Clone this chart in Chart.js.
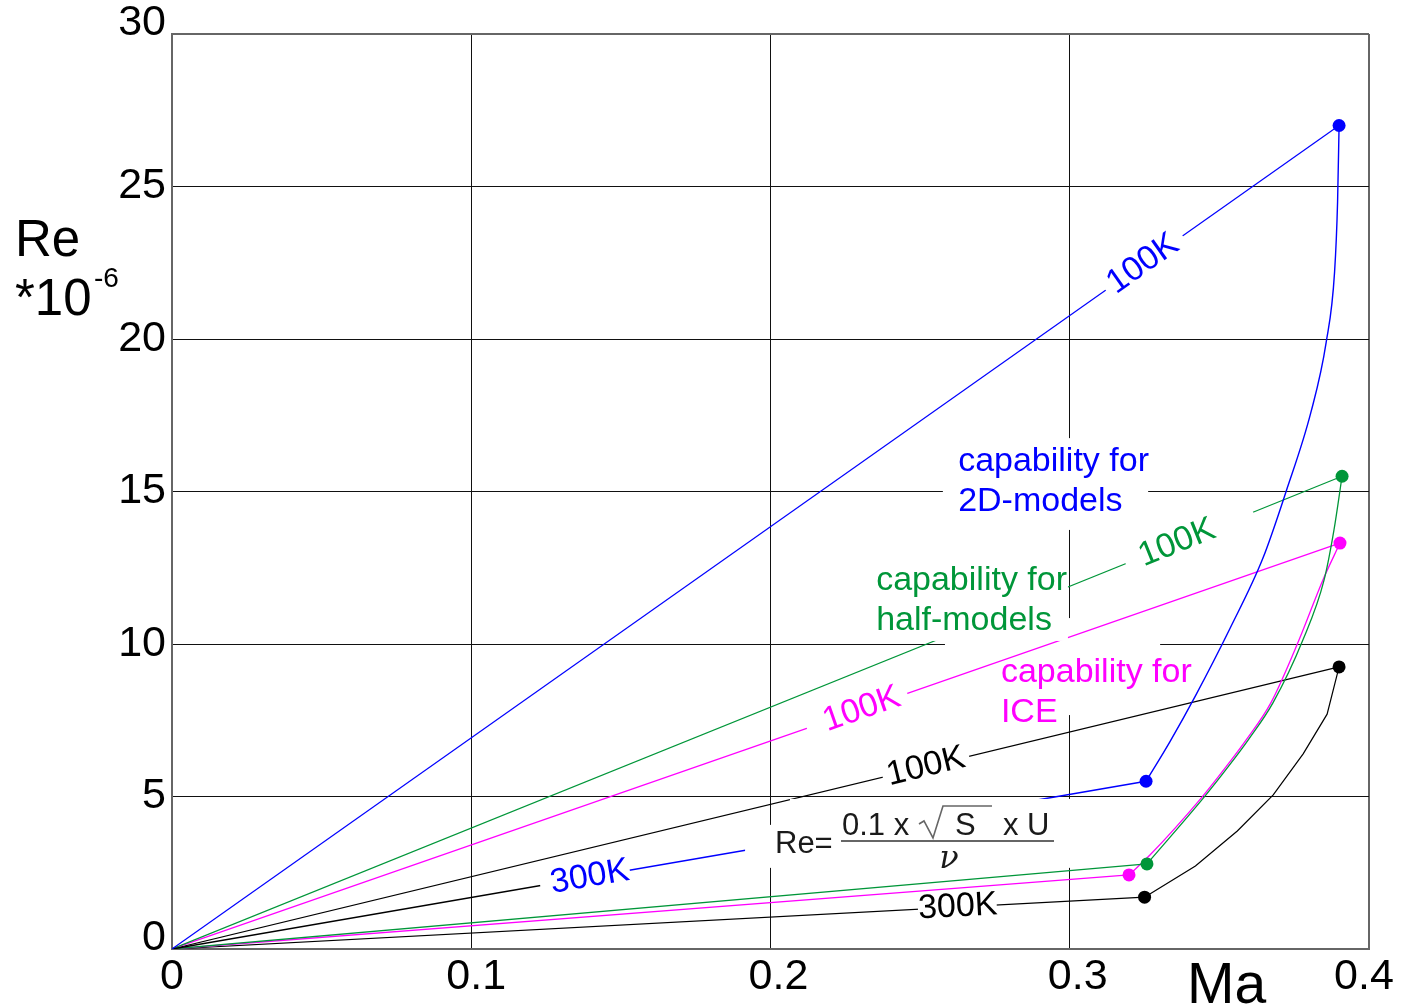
<!DOCTYPE html>
<html>
<head>
<meta charset="utf-8">
<title>Re vs Ma capability</title>
<script src="https://cdn.jsdelivr.net/npm/chart.js@4.4.0/dist/chart.umd.min.js"></script>
<style>
  html, body { margin: 0; padding: 0; background: #ffffff; }
  #wrap { width: 1406px; height: 1006px; position: relative; }
</style>
</head>
<body>
<div id="wrap"><canvas id="chart" width="1406" height="1006"></canvas></div>
<script>
// ---- axis ticks ----
const xTicks = [0, 0.1, 0.2, 0.3, 0.4];
const xTickLabels = ['0', '0.1', '0.2', '0.3', '0.4'];
const yTicks = [0, 5, 10, 15, 20, 25, 30];
const yTickLabels = ['0', '5', '10', '15', '20', '25', '30'];

// ---- series: [Ma, Re*10^-6] ----
const blue100K = [[0, 0], [0.390, 27.0]];
const blueEnvelope = [[0.3900, 27.0], [0.3895, 24.5], [0.3885, 22.2], [0.3857, 19.9], [0.3806, 17.6],
  [0.3723, 15.0], [0.3645, 12.8], [0.3535, 10.5], [0.3420, 8.3], [0.3335, 6.8], [0.3255, 5.5]];
const blue300K = [[0, 0], [0.3255, 5.5]];

const green100K = [[0, 0], [0.391, 15.5]];
const greenEnvelope = [[0.3910, 15.5], [0.3883, 13.74], [0.3850, 12.1], [0.3779, 10.13], [0.3679, 8.07],
  [0.3596, 6.85], [0.3529, 5.97], [0.3449, 4.98], [0.3258, 2.79]];
const green300K = [[0, 0], [0.3258, 2.79]];

const magenta100K = [[0, 0], [0.390, 13.3]];
const magentaEnvelope = [[0.3903, 13.31], [0.3846, 12.1], [0.3766, 10.13], [0.3672, 8.07], [0.3589, 6.85],
  [0.3522, 5.97], [0.3442, 4.98], [0.3268, 3.08], [0.3198, 2.43]];
const magenta300K = [[0, 0], [0.3198, 2.43]];

const black100K = [[0, 0], [0.390, 9.25]];
const blackEnvelope = [[0.390, 9.25], [0.386, 7.7], [0.378, 6.4], [0.368, 5.05], [0.356, 3.87],
  [0.342, 2.72], [0.325, 1.7]];
const black300K = [[0, 0], [0.325, 1.7]];

// ---- styling ----
const FONT = "'Liberation Sans', Arial, Helvetica, sans-serif";
const BLUE = '#0000ff', GREEN = '#009639', MAGENTA = '#ff00ff', BLACK = '#000000';
const FRAME = '#666666';
const xLabelNudge = [0, 5, 8, 8, -5];          // px, horizontal
const yLabelNudge = [-11, 0, 0, 0, 0, 0, -11]; // px, vertical

// temperature tags along the straight lines (position as a fraction of the line)
const lineTags = [
  { text: '100K', color: BLUE,    series: blue100K,    at: 0.832, gap: [0.800, 0.866], h: 34 },
  { text: '100K', color: GREEN,   series: green100K,   at: 0.859, gap: [0.815, 0.924], h: 32 },
  { text: '100K', color: MAGENTA, series: magenta100K, at: 0.591, gap: [0.544, 0.630], h: 32 },
  { text: '100K', color: BLACK,   series: black100K,   at: 0.646, gap: [0.609, 0.683], h: 32 },
  { text: '300K', color: BLUE,    series: blue300K,    at: 0.429, gap: [0.378, 0.470], h: 30 },
  { text: '300K', color: BLACK,   series: black300K,   at: 0.808, gap: [0.767, 0.848], h: 24 }
];

// multi-line notes, anchored at the left end of the first line
const notes = [
  { lines: ['capability for', '2D-models'],   color: BLUE,    at: [0.2627, 15.97] },
  { lines: ['capability for', 'half-models'], color: GREEN,   at: [0.2353, 12.07] },
  { lines: ['capability for', 'ICE'],         color: MAGENTA, at: [0.2770, 9.05] }
];

// white panels: under the curves (grid only) and over the curves
const panelsUnder = [
  { x: [0.2576, 0.3262], y: [13.74, 16.75] },
  { x: [0.2583, 0.3302], y: [7.67, 10.85] }
];
const panelsOver = [
  { x: [0.2339, 0.2994], y: [10.10, 12.75] },
  { x: [0.2065, 0.3018], y: [2.66, 4.92] },
  { x: [0.1915, 0.2065], y: [2.66, 4.07] }
];
const formulaAt = [0.2015, 3.51];

function pt(chart, p) {
  return [chart.scales.x.getPixelForValue(p[0]), chart.scales.y.getPixelForValue(p[1])];
}

function fillPanel(chart, ctx, p) {
  const [x0, y0] = pt(chart, [p.x[0], p.y[1]]);
  const [x1, y1] = pt(chart, [p.x[1], p.y[0]]);
  ctx.fillStyle = '#ffffff';
  ctx.fillRect(x0, y0, x1 - x0, y1 - y0);
}

const overlay = {
  id: 'overlay',
  beforeDatasetsDraw(chart) {
    const ctx = chart.ctx;
    ctx.save();
    panelsUnder.forEach(p => fillPanel(chart, ctx, p));
    ctx.restore();
  },
  afterDatasetsDraw(chart) {
    const ctx = chart.ctx;
    const sx = chart.scales.x, sy = chart.scales.y;
    ctx.save();
    panelsOver.forEach(p => fillPanel(chart, ctx, p));

    // tags along lines
    lineTags.forEach(tag => {
      const a = pt(chart, tag.series[0]);
      const b = pt(chart, tag.series[tag.series.length - 1]);
      const ang = Math.atan2(b[1] - a[1], b[0] - a[0]);
      const len = Math.hypot(b[0] - a[0], b[1] - a[1]);
      const gm = (tag.gap[0] + tag.gap[1]) / 2;
      const gl = (tag.gap[1] - tag.gap[0]) * len;
      ctx.save();
      ctx.translate(a[0] + (b[0] - a[0]) * gm, a[1] + (b[1] - a[1]) * gm);
      ctx.rotate(ang);
      ctx.fillStyle = '#ffffff';
      ctx.fillRect(-gl / 2, -tag.h / 2, gl, tag.h);
      ctx.restore();
      ctx.save();
      ctx.translate(a[0] + (b[0] - a[0]) * tag.at, a[1] + (b[1] - a[1]) * tag.at);
      ctx.rotate(ang);
      ctx.fillStyle = tag.color;
      ctx.font = '34px ' + FONT;
      ctx.textAlign = 'center';
      ctx.textBaseline = 'middle';
      ctx.fillText(tag.text, 0, 0);
      ctx.restore();
    });

    // notes
    ctx.font = '34px ' + FONT;
    ctx.textAlign = 'left';
    ctx.textBaseline = 'middle';
    notes.forEach(n => {
      const [x, y] = pt(chart, n.at);
      ctx.fillStyle = n.color;
      n.lines.forEach((s, i) => ctx.fillText(s, x, y + i * 39.5));
    });

    // Reynolds number formula
    const [fx, fy] = pt(chart, formulaAt);
    ctx.fillStyle = '#1a1a1a';
    ctx.textBaseline = 'alphabetic';
    ctx.textAlign = 'left';
    ctx.font = '31px ' + FONT;
    ctx.fillText('Re=', fx, fy + 11);
    ctx.fillText('0.1 x', fx + 67, fy - 7);
    ctx.fillText('S', fx + 180, fy - 7);
    ctx.fillText('x U', fx + 228, fy - 7);
    ctx.strokeStyle = '#666666';
    ctx.lineWidth = 1.6;
    ctx.beginPath();
    ctx.moveTo(fx + 144, fy - 18);
    ctx.lineTo(fx + 149, fy - 21);
    ctx.lineTo(fx + 158, fy - 4);
    ctx.lineTo(fx + 168, fy - 36);
    ctx.lineTo(fx + 217, fy - 36);
    ctx.stroke();
    ctx.lineWidth = 2;
    ctx.beginPath();
    ctx.moveTo(fx + 66, fy - 1);
    ctx.lineTo(fx + 279, fy - 1);
    ctx.stroke();
    ctx.font = 'italic 32px "DejaVu Serif", serif';
    ctx.textAlign = 'center';
    ctx.fillText('\u03BD', fx + 174, fy + 26);

    // tick labels
    ctx.fillStyle = '#000000';
    ctx.font = '43px ' + FONT;
    ctx.textBaseline = 'middle';
    ctx.textAlign = 'right';
    yTicks.forEach((v, i) => {
      ctx.fillText(yTickLabels[i], sx.left - 6, sy.getPixelForValue(v) + yLabelNudge[i]);
    });
    ctx.textAlign = 'center';
    xTicks.forEach((v, i) => {
      ctx.fillText(xTickLabels[i], sx.getPixelForValue(v) + xLabelNudge[i], sy.bottom + 28);
    });

    // axis titles
    ctx.textBaseline = 'alphabetic';
    ctx.textAlign = 'left';
    ctx.font = '51px ' + FONT;
    ctx.fillText('Re', 15, 256);
    ctx.fillText('*10', 15, 315);
    ctx.font = '28px ' + FONT;
    ctx.fillText('-6', 94, 287);
    ctx.font = '57px ' + FONT;
    ctx.fillText('Ma', 1187, 1003);
    ctx.restore();
  }
};

function xy(arr) { return arr.map(p => ({ x: p[0], y: p[1] })); }
function endDots(arr, r) { return arr.map((p, i) => (i === 0 || i === arr.length - 1) ? r : 0); }

function line(data, color, width, extra) {
  return Object.assign({
    data: xy(data),
    borderColor: color,
    backgroundColor: color,
    borderWidth: width,
    pointRadius: 0,
    pointBorderWidth: 0,
    showLine: true,
    fill: false,
    tension: 0
  }, extra || {});
}

// blue 300K line starts black near the origin and turns blue past its tag
function blue300KColor(ctx) {
  const chart = ctx.chart;
  const area = chart.chartArea;
  if (!area) return BLUE;
  const a = pt(chart, blue300K[0]);
  const b = pt(chart, blue300K[1]);
  const split = a[0] + (b[0] - a[0]) * 0.40;
  const g = chart.ctx.createLinearGradient(area.left, 0, area.right, 0);
  const f = (split - area.left) / (area.right - area.left);
  g.addColorStop(0, BLACK);
  g.addColorStop(f, BLACK);
  g.addColorStop(f, BLUE);
  g.addColorStop(1, BLUE);
  return g;
}

const smooth = { cubicInterpolationMode: 'monotone' };

const datasets = [
  line(blueEnvelope, BLUE, 1.4, Object.assign({ pointRadius: endDots(blueEnvelope, 6.5) }, smooth)),
  line(blue100K, BLUE, 1.2),
  line(blue300K, BLUE, 1.5, { borderColor: blue300KColor }),
  line(greenEnvelope, GREEN, 1.3, Object.assign({ pointRadius: endDots(greenEnvelope, 6.5) }, smooth)),
  line(green100K, GREEN, 1.2),
  line(green300K, GREEN, 1.3),
  line(magentaEnvelope, MAGENTA, 1.3, Object.assign({ pointRadius: endDots(magentaEnvelope, 6.5) }, smooth)),
  line(magenta100K, MAGENTA, 1.2),
  line(magenta300K, MAGENTA, 1.3),
  line(blackEnvelope, BLACK, 1.2, { pointRadius: endDots(blackEnvelope, 6.5) }),
  line(black100K, BLACK, 1.2),
  line(black300K, BLACK, 1.2)
];

const gridColor = max => c => (c.tick && (c.tick.value === max || c.tick.value === 0)) ? FRAME : '#111111';
const gridWidth = max => c => (c.tick && (c.tick.value === max || c.tick.value === 0)) ? 2 : 1;

new Chart(document.getElementById('chart'), {
  type: 'scatter',
  data: { datasets },
  options: {
    responsive: false,
    devicePixelRatio: 1,
    animation: false,
    events: [],
    layout: { padding: { left: 0, right: 37, top: 34, bottom: 0 } },
    plugins: { legend: { display: false }, tooltip: { enabled: false } },
    scales: {
      x: {
        type: 'linear',
        min: 0, max: 0.4,
        afterBuildTicks: s => { s.ticks = xTicks.map(v => ({ value: v })); },
        afterFit: s => { s.height = 57; },
        grid: { color: gridColor(0.4), lineWidth: gridWidth(0.4), drawTicks: false },
        border: { display: true, color: FRAME, width: 2 },
        ticks: { display: false }
      },
      y: {
        type: 'linear',
        min: 0, max: 30,
        afterBuildTicks: s => { s.ticks = yTicks.map(v => ({ value: v })); },
        afterFit: s => { s.width = 172; },
        grid: { color: gridColor(30), lineWidth: gridWidth(30), drawTicks: false },
        border: { display: true, color: FRAME, width: 2 },
        ticks: { display: false }
      }
    }
  },
  plugins: [overlay]
});
</script>
</body>
</html>
